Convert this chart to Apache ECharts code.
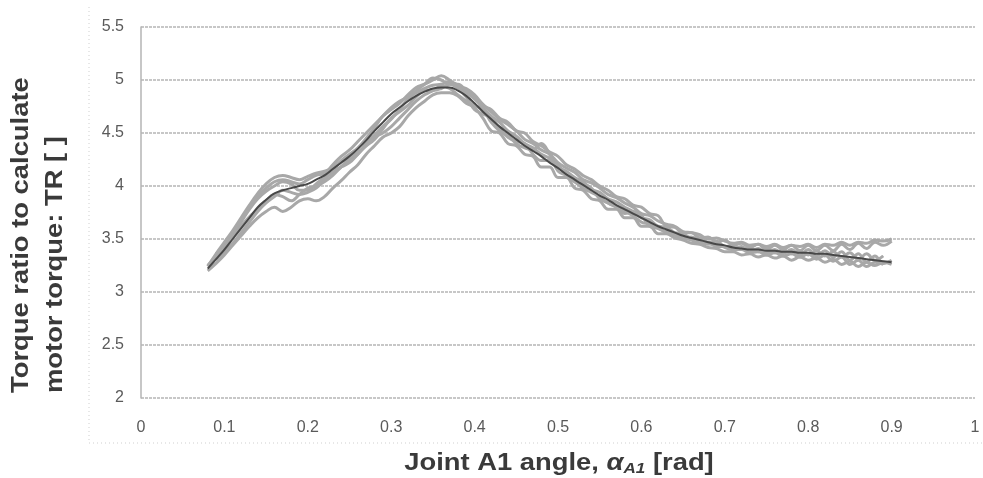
<!DOCTYPE html>
<html><head><meta charset="utf-8">
<script src="https://cdn.jsdelivr.net/npm/echarts@6/dist/echarts.min.js"></script>
<style>html,body{margin:0;padding:0;background:#fff}#c{width:983px;height:478px}</style>
</head><body><div id="c"></div>
<script>
// x values (rad), step 0.01 from 0.08 to 0.90
const xValues = [0.08,0.09,0.10,0.11,0.12,0.13,0.14,0.15,0.16,0.17,0.18,0.19,0.20,0.21,0.22,0.23,0.24,0.25,0.26,0.27,0.28,0.29,0.30,0.31,0.32,0.33,0.34,0.35,0.36,0.37,0.38,0.39,0.40,0.41,0.42,0.43,0.44,0.45,0.46,0.47,0.48,0.49,0.50,0.51,0.52,0.53,0.54,0.55,0.56,0.57,0.58,0.59,0.60,0.61,0.62,0.63,0.64,0.65,0.66,0.67,0.68,0.69,0.70,0.71,0.72,0.73,0.74,0.75,0.76,0.77,0.78,0.79,0.80,0.81,0.82,0.83,0.84,0.85,0.86,0.87,0.88,0.89,0.90];

const runA = [3.24,3.36,3.47,3.58,3.70,3.82,3.93,4.02,4.08,4.10,4.08,4.06,4.09,4.12,4.14,4.17,4.24,4.30,4.36,4.45,4.55,4.66,4.72,4.78,4.86,4.93,4.96,5.00,5.04,5.00,4.94,4.92,4.86,4.77,4.70,4.63,4.58,4.52,4.44,4.40,4.34,4.30,4.22,4.17,4.13,4.06,4.03,3.98,3.92,3.89,3.84,3.80,3.74,3.72,3.67,3.64,3.62,3.57,3.56,3.54,3.50,3.51,3.48,3.46,3.47,3.44,3.45,3.43,3.45,3.42,3.44,3.43,3.45,3.42,3.45,3.44,3.47,3.44,3.47,3.46,3.49,3.48,3.50];
const runB = [3.20,3.27,3.35,3.44,3.53,3.62,3.70,3.76,3.80,3.76,3.80,3.86,3.88,3.86,3.90,3.98,4.05,4.13,4.20,4.30,4.38,4.46,4.50,4.56,4.66,4.74,4.80,4.86,4.88,4.88,4.85,4.78,4.74,4.64,4.52,4.50,4.40,4.38,4.30,4.28,4.18,4.18,4.08,4.08,3.98,3.96,3.88,3.86,3.78,3.78,3.70,3.70,3.62,3.62,3.55,3.55,3.51,3.49,3.46,3.45,3.42,3.41,3.38,3.38,3.35,3.36,3.33,3.35,3.32,3.34,3.30,3.33,3.30,3.32,3.28,3.31,3.26,3.29,3.24,3.28,3.25,3.28,3.26];
const runC = [null,3.36,3.44,3.55,3.66,3.78,3.88,3.95,4.00,4.04,4.02,3.96,3.96,4.02,4.08,4.12,4.18,4.24,4.30,4.40,4.48,4.56,4.63,4.72,4.82,4.88,4.92,4.95,4.96,4.98,4.95,4.88,4.82,4.74,4.66,4.60,4.52,4.47,4.40,4.36,4.30,4.26,4.18,4.14,4.08,4.04,3.97,3.94,3.88,3.85,3.80,3.76,3.70,3.68,3.62,3.61,3.56,3.55,3.51,3.51,3.47,3.47,3.43,3.44,3.40,3.42,3.38,3.41,3.37,3.40,3.36,3.39,3.35,3.39,3.34,3.38,3.33,3.37,3.31,3.36,3.30,3.34,null];
const runD = [3.25,3.34,3.42,3.52,3.62,3.71,3.78,3.86,3.92,3.90,3.86,3.92,3.98,4.00,4.04,4.10,4.18,4.26,4.32,4.38,4.44,4.54,4.64,4.70,4.76,4.84,4.90,4.90,4.92,4.96,4.92,4.84,4.72,4.68,4.64,4.54,4.46,4.42,4.40,4.30,4.24,4.24,4.20,4.10,4.04,4.02,3.98,3.88,3.84,3.80,3.74,3.76,3.72,3.62,3.60,3.57,3.54,3.50,3.52,3.47,3.45,3.48,3.42,3.40,3.43,3.38,3.41,3.37,3.40,3.36,3.40,3.35,3.40,3.34,3.39,3.33,3.38,3.30,3.36,3.28,3.34,3.27,3.30];
const runE = [null,3.30,3.38,3.46,3.56,3.66,3.76,3.84,3.90,3.96,3.94,3.92,3.94,3.98,4.06,4.14,4.18,4.22,4.30,4.38,4.46,4.50,4.56,4.64,4.72,4.80,4.86,4.90,4.94,4.92,4.86,4.80,4.76,4.72,4.60,4.52,4.48,4.40,4.36,4.34,4.40,4.30,4.14,4.10,4.04,3.98,3.94,3.90,3.84,3.80,3.76,3.72,3.66,3.64,3.60,3.56,3.54,3.51,3.49,3.46,3.46,3.43,3.43,3.40,3.40,3.37,3.38,3.35,3.37,3.34,3.36,3.33,3.36,3.31,3.35,3.29,3.33,3.26,3.30,3.24,3.28,3.26,null];
const runF = [null,null,3.46,3.56,3.68,3.80,3.90,3.98,4.04,4.06,4.04,4.02,4.06,4.10,4.12,4.20,4.28,4.34,4.42,4.50,4.58,4.66,4.74,4.80,4.84,4.90,4.96,5.02,5.00,4.96,4.96,4.90,4.84,4.76,4.72,4.64,4.60,4.52,4.50,4.42,4.38,4.32,4.28,4.20,4.16,4.10,4.06,4.00,3.96,3.90,3.88,3.82,3.80,3.74,3.72,3.62,3.61,3.56,3.56,3.51,3.52,3.47,3.49,3.44,3.46,3.42,3.45,3.40,3.44,3.40,3.44,3.39,3.44,3.39,3.44,3.39,3.45,3.40,3.46,3.41,3.47,3.44,3.48];
const fitTR = [3.22,3.31,3.40,3.50,3.60,3.70,3.80,3.87,3.93,3.96,3.98,4.00,4.02,4.06,4.10,4.16,4.22,4.28,4.35,4.43,4.52,4.60,4.68,4.74,4.80,4.85,4.89,4.92,4.93,4.93,4.90,4.85,4.78,4.70,4.63,4.56,4.50,4.44,4.38,4.33,4.28,4.22,4.17,4.11,4.06,4.01,3.96,3.91,3.87,3.82,3.78,3.74,3.70,3.66,3.62,3.59,3.56,3.53,3.51,3.49,3.47,3.45,3.44,3.42,3.41,3.40,3.40,3.39,3.39,3.38,3.38,3.37,3.37,3.36,3.36,3.35,3.34,3.33,3.32,3.31,3.30,3.29,3.28];

const yTicks = [2, 2.5, 3, 3.5, 4, 4.5, 5, 5.5];
const xTicks = [0, 0.1, 0.2, 0.3, 0.4, 0.5, 0.6, 0.7, 0.8, 0.9, 1];

const runs = [runA, runB, runC, runD, runE, runF];
const pair = v => xValues.map((x, i) => [x, v[i]]);

const series = runs.map(r => ({
  type: 'line', data: pair(r), showSymbol: false, smooth: 0.4,
  lineStyle: { color: '#a8a8a8', width: 3 }, silent: true, z: 2
}));
series.push({
  type: 'line', data: pair(fitTR), showSymbol: false, smooth: 0.4,
  lineStyle: { color: '#484848', width: 2 }, silent: true, z: 5
});

const titleFont = 'bold 24px "Liberation Sans", Arial, sans-serif';
const chart = echarts.init(document.getElementById('c'), null, { renderer: 'canvas' });
chart.setOption({
  animation: false,
  backgroundColor: '#fff',
  grid: { left: 141, right: 8, top: 27, bottom: 80 },
  xAxis: {
    type: 'value', min: 0, max: 1, interval: 0.1,
    axisLine: { show: false }, axisTick: { show: false },
    splitLine: { show: false },
    axisLabel: { color: '#5a5a5a', fontSize: 16, fontFamily: 'Liberation Sans', margin: 22,
      formatter: v => xTicks.includes(+v.toFixed(1)) ? String(+v.toFixed(1)) : '' }
  },
  yAxis: {
    type: 'value', min: 2, max: 5.5, interval: 0.5,
    axisLine: { show: true, lineStyle: { color: '#b5b5b5', width: 1.5 } },
    axisTick: { show: false },
    splitLine: { show: true, lineStyle: { color: '#b5b5b5', width: 1.5, type: [3, 1] } },
    axisLabel: { color: '#5a5a5a', fontSize: 16, fontFamily: 'Liberation Sans', margin: 17,
      formatter: v => yTicks.includes(v) ? String(v) : '' }
  },
  graphic: [
    { type: 'polyline', silent: true, shape: { points: [[89, 7], [89, 443], [983, 443]] },
      style: { stroke: '#cfcfcf', lineWidth: 1, lineDash: [1, 3], fill: null } },
    { type: 'text', x: 38, y: 393, rotation: Math.PI / 2, scaleX: 1.14, silent: true,
      style: { text: 'Torque ratio to calculate\nmotor torque: TR [ ]', fill: '#3a3a3a',
        font: titleFont, align: 'left', verticalAlign: 'middle', lineHeight: 34 } },
    { type: 'text', x: 559, y: 463, scaleX: 1.14, silent: true,
      style: { text: '{n|Joint A1 angle, }{a|α}{s|A1}{n| [rad]}', align: 'center', verticalAlign: 'middle',
        rich: {
          n: { font: titleFont, fill: '#3a3a3a' },
          a: { font: 'italic bold 24px "Liberation Sans", Arial, sans-serif', fill: '#3a3a3a' },
          s: { font: 'italic bold 15px "Liberation Sans", Arial, sans-serif', fill: '#3a3a3a', padding: [12, 0, 0, 0] }
        } } }
  ],
  series: series
});
</script></body></html>
